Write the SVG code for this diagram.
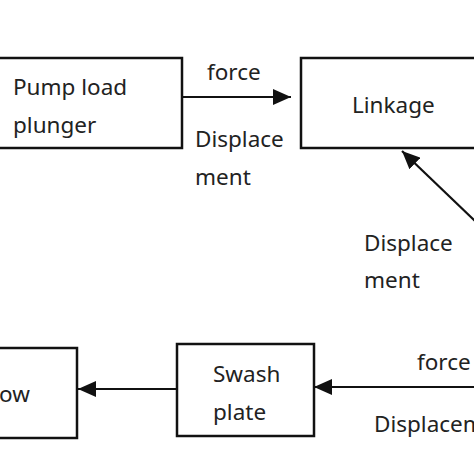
<svg xmlns="http://www.w3.org/2000/svg" width="474" height="474" viewBox="0 0 474 474">
<defs>
<marker id="ah" viewBox="0 0 18 16" refX="18" refY="8" markerWidth="18" markerHeight="16" markerUnits="userSpaceOnUse" orient="auto">
<path d="M0,0 L18,8 L0,16 z" fill="#111"/>
</marker>
<style>
.box{fill:#fff;stroke:#111;stroke-width:2.5}
.t{font-family:"Noto Sans","DejaVu Sans",sans-serif;font-size:22.5px;fill:#222}
.c{stroke:#111;stroke-width:2.2;fill:none}
</style>
</defs>
<rect width="474" height="474" fill="#fff"/>
<g id="pump"><rect class="box" x="-5" y="58" width="187" height="90"/><text class="t" x="13" y="95">Pump load</text><text class="t" x="13" y="133">plunger</text></g>
<g id="linkage"><rect class="box" x="301" y="58" width="185" height="90"/><text class="t" x="352" y="113">Linkage</text></g>
<g id="flow"><rect class="box" x="-20" y="348" width="97" height="90"/><text class="t" x="-1" y="402">ow</text></g>
<g id="swash"><rect class="box" x="177" y="344" width="137" height="92"/><text class="t" x="213" y="382">Swash</text><text class="t" x="213" y="420">plate</text></g>
<g id="connectors">
<line class="c" x1="182" y1="97" x2="291" y2="97" marker-end="url(#ah)"/>
<line class="c" x1="476" y1="222" x2="402" y2="151" marker-end="url(#ah)"/>
<line class="c" x1="177" y1="389" x2="78" y2="389" marker-end="url(#ah)"/>
<line class="c" x1="476" y1="387" x2="314" y2="387" marker-end="url(#ah)"/>
</g>
<g id="labels">
<text class="t" x="207" y="80">force</text>
<text class="t" x="195" y="147">Displace</text>
<text class="t" x="195" y="185">ment</text>
<text class="t" x="364" y="251">Displace</text>
<text class="t" x="364" y="288">ment</text>
<text class="t" x="417" y="370">force</text>
<text class="t" x="374" y="432">Displacement</text>
</g>
</svg>
